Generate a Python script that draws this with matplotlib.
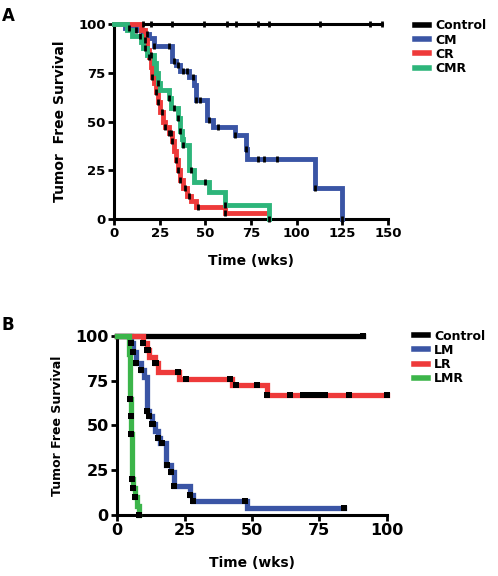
import numpy as np
import matplotlib
matplotlib.use("Agg")
import matplotlib.pyplot as plt
from matplotlib.lines import Line2D

plt.rcParams['font.family'] = ['DejaVu Sans']
plt.rcParams['font.weight'] = 'bold'

# ---- panel A data (weeks, % tumor free) ----
ctrlA_t = [0, 147]
ctrlA_s = [100, 100]
ctrlA_cens = [16, 20, 32, 49, 62, 67, 79, 85, 113, 140, 147]

cmA_t = [0, 6, 12, 16, 19, 22, 32, 34, 36, 41, 44, 45, 51, 54, 66, 72, 73, 110, 125]
cmA_s = [100, 98, 97, 95, 93, 89, 81, 79, 76, 73, 69, 61, 51, 47, 43, 36, 31, 16, 0]
cmA_cens = [8, 12, 18, 22, 30, 33, 35, 38, 40, 43, 45, 47, 52, 57, 66, 72, 79, 82, 89, 110, 125]

crA_t = [0, 15, 17, 18, 19, 20, 21, 22, 23, 24, 25, 27, 28, 30, 32, 33, 34, 35, 36, 38, 40, 42, 45, 61, 84]
crA_s = [100, 97, 92, 87, 83, 78, 73, 70, 65, 60, 55, 50, 47, 44, 40, 35, 30, 25, 20, 16, 12, 9, 6, 3, 3]
crA_cens = [17, 19, 21, 23, 24, 26, 28, 30, 31, 32, 34, 35, 36, 39, 41, 46, 61]

cmrA_t = [0, 7, 10, 15, 16, 18, 22, 23, 24, 25, 30, 31, 35, 36, 37, 38, 41, 44, 52, 61, 85]
cmrA_s = [100, 97, 94, 91, 88, 84, 80, 75, 70, 66, 62, 57, 52, 45, 41, 38, 25, 19, 14, 7, 0]
cmrA_cens = [14, 17, 20, 24, 30, 33, 35, 36, 38, 42, 50, 61, 85]

# ---- panel B data ----
ctrlB_t = [0, 91]
ctrlB_s = [100, 100]
ctrlB_cens = [91]

lmB_t = [0, 5, 6, 7, 9, 10, 11, 12, 13, 14, 15, 16, 18, 20, 21, 27, 28, 48, 84]
lmB_s = [100, 96, 91, 85, 81, 77, 58, 55, 51, 47, 43, 40, 28, 24, 16, 11, 8, 4, 4]
lmB_cens = [5, 6, 7, 9, 11, 12, 13, 13.5, 15, 16.5, 18.5, 20, 21, 27, 28, 47.5, 84]

lrB_t = [0, 9.5, 11, 12, 14, 15, 23, 42.5, 55.5, 100]
lrB_s = [100, 96, 92, 88, 85, 80, 76, 72.5, 67, 67]
lrB_cens = [9.5, 11, 11.5, 14, 14.5, 22.5, 25.5, 42, 44, 52, 55.5, 64, 69, 71, 73, 75, 77, 86, 100]

lmrB_t = [0, 4.5, 4.7, 4.9, 5.0, 5.2, 5.5, 6, 6.7, 7.5, 8]
lmrB_s = [100, 90, 75, 65, 55, 45, 20, 15, 10, 5, 0]
lmrB_cens = [4.9, 5.0, 5.2, 5.5, 6, 6.7, 8]

blue = '#3a55a5'
red = '#ee3a3a'
greenA = '#2db57a'
greenB = '#3cb54a'


def surv_at(t, s, c):
    idx = np.searchsorted(t, c, side='right') - 1
    return np.array(s)[idx]


def km(ax, t, s, cens, color, z, lw, marker, ms, mew):
    ax.step(t, s, where='post', color=color, lw=lw, zorder=z, clip_on=False,
            solid_joinstyle='miter')
    ax.plot(cens, surv_at(t, s, cens), ls='none', marker=marker, ms=ms,
            mew=mew, color='black', zorder=10, clip_on=False)


def style(ax, xmax, xstep, ylabel, tsize, ysize, xpad):
    ax.set_xlim(0, xmax)
    ax.set_ylim(0, 100)
    ax.set_xticks(np.arange(0, xmax + 1, xstep))
    ax.set_yticks([0, 25, 50, 75, 100])
    for sp in ['top', 'right']:
        ax.spines[sp].set_visible(False)
    for sp in ['left', 'bottom']:
        ax.spines[sp].set_linewidth(2.2)
    ax.tick_params(width=2, length=4, labelsize=tsize, pad=2)
    for lab in ax.get_xticklabels() + ax.get_yticklabels():
        lab.set_fontweight('bold')
    ax.set_xlabel('Time (wks)', fontsize=10, fontweight='bold', labelpad=xpad)
    ax.set_ylabel(ylabel, fontsize=ysize, fontweight='bold', labelpad=8)


def legend(ax, handles, names, y):
    ax.legend(handles, names, loc='upper left', bbox_to_anchor=(1.10, y),
              frameon=False, handlelength=1.1, handletextpad=0.5,
              labelspacing=0.1, borderpad=0, borderaxespad=0,
              prop={'weight': 'bold', 'size': 9})


fig = plt.figure(figsize=(4.98, 5.76), dpi=100)

axA = fig.add_axes([0.229, 0.620, 0.550, 0.338])
km(axA, ctrlA_t, ctrlA_s, ctrlA_cens, 'black', 2, 2.2, '|', 5, 2)
km(axA, cmA_t, cmA_s, cmA_cens, blue, 3, 3.5, '|', 5, 2)
km(axA, crA_t, crA_s, crA_cens, red, 4, 3.5, '|', 5, 2)
km(axA, cmrA_t, cmrA_s, cmrA_cens, greenA, 5, 3.5, '|', 5, 2)
style(axA, 150, 25, 'Tumor  Free Survival', 9.5, 10, 10)
legend(axA, [Line2D([], [], color=c, lw=4) for c in ['black', blue, red, greenA]],
       ['Control', 'CM', 'CR', 'CMR'], 1.025)

axB = fig.add_axes([0.235, 0.106, 0.542, 0.311])
km(axB, ctrlB_t, ctrlB_s, ctrlB_cens, 'black', 2, 3.8, 's', 4.5, 0)
km(axB, lmB_t, lmB_s, lmB_cens, blue, 3, 3.8, 's', 4.5, 0)
km(axB, lrB_t, lrB_s, lrB_cens, red, 4, 3.8, 's', 4.5, 0)
km(axB, lmrB_t, lmrB_s, lmrB_cens, greenB, 5, 3.8, 's', 4.5, 0)
style(axB, 100, 25, 'Tumor Free Survival', 11.5, 9, 13)
legend(axB, [Line2D([], [], color=c, lw=4) for c in ['black', blue, red, greenB]],
       ['Control', 'LM', 'LR', 'LMR'], 1.035)

fig.text(0.004, 0.972, 'A', fontsize=12, fontweight='bold', va='center')
fig.text(0.004, 0.435, 'B', fontsize=12, fontweight='bold', va='center')

fig.savefig('out.png', dpi=100)
